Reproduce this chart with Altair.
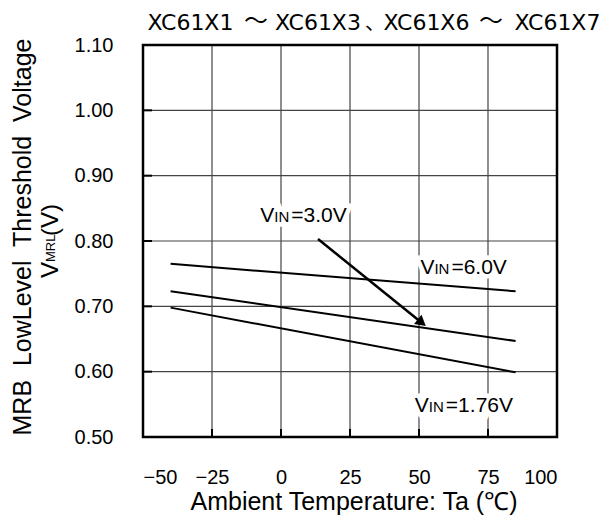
import altair as alt
import pandas as pd

# ---- data ----
temps = [-40, 85]
v_in_6 = [0.765, 0.723]
v_in_3 = [0.723, 0.647]
v_in_176 = [0.698, 0.599]
series_names = ["6.0V", "3.0V", "1.76V"]

x_ticks = [-50, -25, 0, 25, 50, 75, 100]
y_ticks = [0.5, 0.6, 0.7, 0.8, 0.9, 1.0, 1.1]

label_x = [-7.5, 50.5, 48.5]
label_y = [0.829, 0.749, 0.538]
label_rest = ["=3.0V", "=6.0V", "=1.76V"]

arrow_x = [13.4, 51.0]
arrow_y = [0.803, 0.675]

# title "XC61X1～XC61X3、XC61X6～XC61X7" in pieces (centres, px from plot left)
title_latin = ["XC61X1", "XC61X3", "XC61X6", "XC61X7"]
title_latin_x = [47.5, 175, 283.5, 414.5]
title_wave_x = [113, 348]
title_comma_x = [222]

x_title = "Ambient Temperature: Ta (℃)"
y_title_1 = "MRB\u00a0 LowLevel\u00a0 Threshold\u00a0 Voltage"

W, H = 414, 392
FONT = "Liberation Sans"
JP = "Noto Sans CJK JP"

rows = []
for name, vals in zip(series_names, [v_in_6, v_in_3, v_in_176]):
    for t, v in zip(temps, vals):
        rows.append({"series": name, "temp": t, "v": v})
df = pd.DataFrame(rows)

xs = alt.Scale(domain=[-50, 100], nice=False, zero=False)
ys = alt.Scale(domain=[0.5, 1.1], nice=False, zero=False)

x_axis = alt.Axis(values=x_ticks, format="d", labelFont=FONT, labelFontSize=20,
                  labelColor="black", labelPadding=30, ticks=False, domain=False,
                  grid=False, title=None)
y_axis = alt.Axis(values=y_ticks, format=".2f", labelFont=FONT, labelFontSize=20,
                  labelColor="black", labelPadding=30, ticks=False, domain=False,
                  grid=False, title=None)

base_x = alt.X("temp:Q", scale=xs, axis=x_axis)
base_y = alt.Y("v:Q", scale=ys, axis=y_axis)

# grid lines (inner)
gx = pd.DataFrame({"temp": x_ticks[1:-1]})
gy = pd.DataFrame({"v": y_ticks[1:-1]})
grid_v = alt.Chart(gx).mark_rule(color="#444", strokeWidth=1.2).encode(
    x=alt.X("temp:Q", scale=xs, axis=x_axis))
grid_h = alt.Chart(gy).mark_rule(color="#444", strokeWidth=1.2).encode(
    y=alt.Y("v:Q", scale=ys, axis=y_axis))

# inward ticks
tick_x = alt.Chart(pd.DataFrame({"temp": x_ticks})).mark_rule(color="black", strokeWidth=2).encode(
    x=alt.X("temp:Q", scale=xs, axis=x_axis), y=alt.value(H), y2=alt.value(H - 8))
tick_y = alt.Chart(pd.DataFrame({"v": y_ticks})).mark_rule(color="black", strokeWidth=2).encode(
    y=alt.Y("v:Q", scale=ys, axis=y_axis), x=alt.value(0), x2=alt.value(9))

# plot frame
frame = alt.Chart(pd.DataFrame({"f": [0]})).mark_rect(
    fill=None, stroke="black", strokeWidth=2.5, filled=False).encode(
    x=alt.value(0), x2=alt.value(W), y=alt.value(0), y2=alt.value(H))

lines = alt.Chart(df).mark_line(color="black", strokeWidth=2).encode(
    x=base_x, y=base_y, detail="series:N")

adf = pd.DataFrame({"temp": arrow_x, "v": arrow_y, "o": [0, 1]})
arrow_line = alt.Chart(adf).mark_line(color="black", strokeWidth=2.5).encode(
    x=base_x, y=base_y, order="o:Q")
head = alt.Chart(adf.iloc[[1]]).mark_point(shape="triangle-right", filled=True, color="black",
                                           size=140, angle=39, opacity=1, dx=-4, dy=-3).encode(
    x=base_x, y=base_y)

ldf = pd.DataFrame({"temp": label_x, "v": label_y, "rest": label_rest})


def seg(text_field, text_value, dx, size):
    layers = []
    for halo in (True, False):
        kw = dict(align="left", baseline="alphabetic", font=FONT, fontSize=size, dx=dx)
        if halo:
            kw.update(stroke="white", strokeWidth=9, color="white")
        else:
            kw.update(color="black")
        enc = dict(x=base_x, y=base_y)
        if text_field:
            enc["text"] = alt.Text(text_field + ":N")
        else:
            enc["text"] = alt.value(text_value)
        layers.append(alt.Chart(ldf).mark_text(**kw).encode(**enc))
    return layers

label_layers = []
halo_layers = []
for spec in [(None, "V", 0, 21), (None, "IN", 14, 15), ("rest", None, 31, 21)]:
    h, t = seg(*spec)
    halo_layers.append(h)
    label_layers.append(t)

# top title
t_latin = alt.Chart(pd.DataFrame({"t": title_latin, "px": title_latin_x})).mark_text(
    align="center", baseline="alphabetic", font="DejaVu Sans", fontSize=22, color="black").encode(
    x=alt.X("px:Q", scale=None), y=alt.value(-15), text="t:N")
t_wave = alt.Chart(pd.DataFrame({"px": title_wave_x})).mark_text(
    align="center", baseline="alphabetic", font=JP, fontSize=24, color="black").encode(
    x=alt.X("px:Q", scale=None), y=alt.value(-16), text=alt.value("～"))
t_comma = alt.Chart(pd.DataFrame({"px": title_comma_x})).mark_text(
    align="left", baseline="alphabetic", font=JP, fontSize=20, color="black").encode(
    x=alt.X("px:Q", scale=None), y=alt.value(-15), text=alt.value("、"))

xt = alt.Chart(pd.DataFrame({"t": [x_title]})).mark_text(
    align="center", baseline="alphabetic", font=FONT, fontSize=25, color="black").encode(
    x=alt.value(211), y=alt.value(H + 73), text="t:N")

yt1 = alt.Chart(pd.DataFrame({"t": [y_title_1]})).mark_text(
    align="center", baseline="middle", angle=270, font=FONT, fontSize=25, color="black").encode(
    x=alt.value(-120), y=alt.value(H / 2 - 4), text="t:N")

yt_parts = pd.DataFrame({"t": ["V", "MRL", "(V)"], "sz": [24, 13, 24],
                         "py": [233, 217, 191]})
yt2 = alt.Chart(yt_parts).mark_text(align="left", baseline="middle", angle=270, font=FONT,
                                     color="black").encode(
    x=alt.value(-92), y=alt.Y("py:Q", scale=None), text="t:N",
    size=alt.Size("sz:Q", scale=None, legend=None))

chart = alt.layer(
    grid_v, grid_h, *halo_layers, lines, arrow_line, head, *label_layers,
    tick_x, tick_y, frame, t_latin, t_wave, t_comma, xt, yt1, yt2
).properties(
    width=W, height=H,
    autosize=alt.AutoSizeParams(type="none"),
    padding={"left": 135, "top": 37, "right": 46, "bottom": 79},
).configure_view(stroke=None).configure(background="white")

chart.save("out.html", embed_options={"renderer": "svg", "actions": False})
